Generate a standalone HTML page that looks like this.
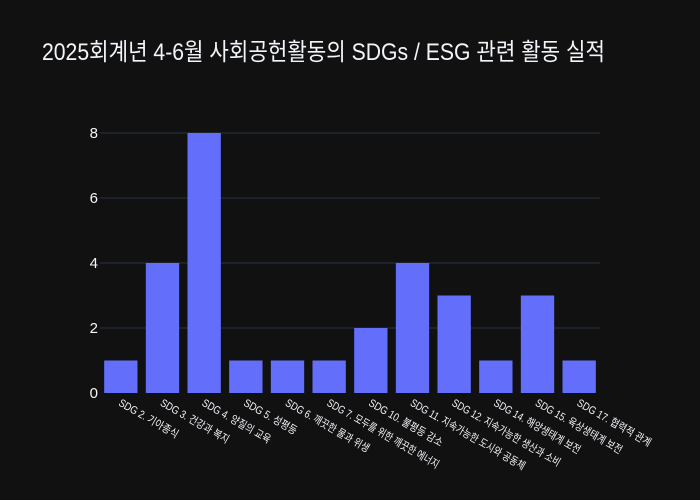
<!DOCTYPE html>
<html><head><meta charset="utf-8">
<style>
html,body{margin:0;padding:0;background:#111111;}
svg{display:block;font-family:"Liberation Sans","Noto Sans CJK KR",sans-serif;}
</style></head>
<body>
<svg id="chart" width="700" height="500" viewBox="0 0 700 500">
<rect width="700" height="500" fill="#111111"/>
<text x="42" y="60" font-size="24" fill="#f2f5fa" textLength="563" lengthAdjust="spacingAndGlyphs">2025회계년 4-6월 사회공헌활동의 SDGs / ESG 관련 활동 실적</text>
<g id="grid"></g>
<g id="bars"></g>
<g id="xlabels"></g>
<g id="ylabels"></g>
</svg>
<script>
const categories = ["SDG 2. 기아종식","SDG 3. 건강과 복지","SDG 4. 양질의 교육","SDG 5. 성평등","SDG 6. 깨끗한 물과 위생","SDG 7. 모두를 위한 깨끗한 에너지","SDG 10. 불평등 감소","SDG 11. 지속가능한 도시와 공동체","SDG 12. 지속가능한 생산과 소비","SDG 14. 해양생태계 보전","SDG 15. 육상생태계 보전","SDG 17. 협력적 관계"];
const values = [1,4,8,1,1,1,2,4,3,1,3,1];
const yTicks = [0,2,4,6,8];

const NS = "http://www.w3.org/2000/svg";
const X0 = 100, X1 = 600, Y0 = 393, YTOP = 133, YMAX = 8;
const step = (X1 - X0) / categories.length;
const bw = step * 0.8;
function xCenter(i){ return X0 + step * (i + 0.5); }
function yScale(v){ return Y0 - (v / YMAX) * (Y0 - YTOP); }

const grid = document.getElementById('grid');
const yl = document.getElementById('ylabels');
yTicks.forEach(t => {
  const y = yScale(t);
  if (t !== 0) {
    const l = document.createElementNS(NS,'line');
    l.setAttribute('x1',X0); l.setAttribute('x2',X1);
    l.setAttribute('y1',y); l.setAttribute('y2',y);
    l.setAttribute('stroke','#283442'); l.setAttribute('stroke-width','1');
    
    
    grid.appendChild(l);
  }
  const tx = document.createElementNS(NS,'text');
  tx.setAttribute('x', 98); tx.setAttribute('y', y + 5);
  tx.setAttribute('text-anchor','end'); tx.setAttribute('font-size','15');
  tx.setAttribute('fill','#f2f5fa');
  tx.textContent = t;
  
  
  yl.appendChild(tx);
});

const bars = document.getElementById('bars');
const xl = document.getElementById('xlabels');
categories.forEach((c,i) => {
  const v = values[i];
  const r = document.createElementNS(NS,'rect');
  r.setAttribute('x', xCenter(i) - bw/2);
  r.setAttribute('y', yScale(v));
  r.setAttribute('width', bw);
  r.setAttribute('height', Y0 - yScale(v));
  r.setAttribute('fill','#636efa');
  
  
  bars.appendChild(r);

  const tx = document.createElementNS(NS,'text');
  const x = xCenter(i) - 3, y = 405;
  tx.setAttribute('x', x); tx.setAttribute('y', y);
  tx.setAttribute('transform', 'rotate(30 ' + x + ' ' + y + ')');
  tx.setAttribute('font-size','11');
  tx.setAttribute('fill','#f2f5fa');
  let len = 0;
  for (const ch of c) len += /[\uac00-\ud7af]/.test(ch) ? 7.3 : (ch === ' ' ? 3.1 : 6.3);
  tx.setAttribute('textLength', len);
  tx.setAttribute('lengthAdjust','spacingAndGlyphs');
  tx.textContent = c;
  
  
  xl.appendChild(tx);
});
</script>
</body></html>
